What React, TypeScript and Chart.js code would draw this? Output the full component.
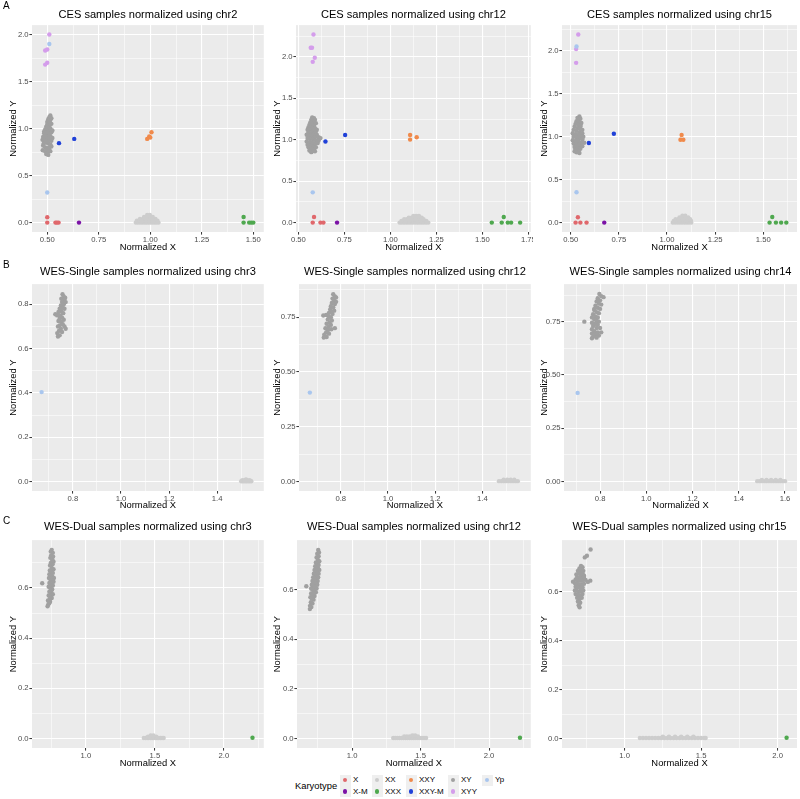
import React, { useEffect, useRef } from 'react';
import { Chart, registerables } from 'chart.js';
Chart.register(...registerables);

type Pt = [number, number];
const FONT = "'Liberation Sans', Arial, Helvetica, sans-serif";

const KARYOTYPES = ['X', 'X-M', 'XX', 'XXX', 'XXY', 'XXY-M', 'XY', 'XYY', 'Yp'];
const COLORS: Record<string, string> = {
  X: '#E0686C', 'X-M': '#7B12A6', XX: '#CDCDCD', XXX: '#4FA84F', XXY: '#F08A4B',
  'XXY-M': '#2041D8', XY: '#A0A0A0', XYY: '#D49DEB', Yp: '#A9C6EE',
};
const DRAW_ORDER = ['XX', 'XY', 'XXX', 'XXY', 'X', 'X-M', 'XXY-M', 'Yp', 'XYY'];

const TITLES = [
  'CES samples normalized using chr2', 'CES samples normalized using chr12', 'CES samples normalized using chr15',
  'WES-Single samples normalized using chr3', 'WES-Single samples normalized using chr12', 'WES-Single samples normalized using chr14',
  'WES-Dual samples normalized using chr3', 'WES-Dual samples normalized using chr12', 'WES-Dual samples normalized using chr15',
];

// ---------- Ticks ----------
const XT_A1 = [0.5, 0.75, 1, 1.25, 1.5];
const XL_A1 = ['0.50', '0.75', '1.00', '1.25', '1.50'];
const XM_A1 = [0.625, 0.875, 1.125, 1.375];
const XT_A2 = [0.5, 0.75, 1, 1.25, 1.5, 1.75];
const XL_A2 = ['0.50', '0.75', '1.00', '1.25', '1.50', '1.75'];
const XM_A2 = [0.625, 0.875, 1.125, 1.375, 1.625];
const XM_A3 = [0.625, 0.875, 1.125, 1.375, 1.625];
const YT_A = [0, 0.5, 1, 1.5, 2];
const YL_A = ['0.0', '0.5', '1.0', '1.5', '2.0'];
const YM_A1 = [0.25, 0.75, 1.25, 1.75];
const YM_A23 = [0.25, 0.75, 1.25, 1.75, 2.25];
const XT_B12 = [0.8, 1.0, 1.2, 1.4];
const XL_B12 = ['0.8', '1.0', '1.2', '1.4'];
const XT_B3 = [0.8, 1.0, 1.2, 1.4, 1.6];
const XL_B3 = ['0.8', '1.0', '1.2', '1.4', '1.6'];
const XM_B = [0.7, 0.9, 1.1, 1.3, 1.5];
const YT_B1 = [0, 0.2, 0.4, 0.6, 0.8];
const YL_B1 = ['0.0', '0.2', '0.4', '0.6', '0.8'];
const YM_B1 = [0.1, 0.3, 0.5, 0.7];
const YT_B23 = [0, 0.25, 0.5, 0.75];
const YL_B23 = ['0.00', '0.25', '0.50', '0.75'];
const YM_B23 = [0.125, 0.375, 0.625, 0.875];
const XT_C = [1.0, 1.5, 2.0];
const XL_C = ['1.0', '1.5', '2.0'];
const XM_C12 = [0.75, 1.25, 1.75, 2.25];
const XM_C3 = [0.75, 1.25, 1.75];
const YT_C = [0, 0.2, 0.4, 0.6];
const YL_C = ['0.0', '0.2', '0.4', '0.6'];
const YM_C = [0.1, 0.3, 0.5, 0.7];

// ---------- Data: panel A1 ----------
const A1_XY: Pt[] = [[0.515,1.14],[0.51,1.12],[0.52,1.11],[0.505,1.10],[0.515,1.09],[0.50,1.07],[0.51,1.06],[0.52,1.05],[0.50,1.04],[0.51,1.03],[0.495,1.02],[0.505,1.01],[0.515,1.00],[0.49,0.99],[0.50,0.98],[0.51,0.97],[0.52,0.96],[0.485,0.95],[0.495,0.94],[0.505,0.93],[0.515,0.92],[0.48,0.91],[0.49,0.90],[0.50,0.89],[0.51,0.88],[0.52,0.87],[0.477,0.88],[0.485,0.86],[0.495,0.85],[0.505,0.84],[0.515,0.83],[0.48,0.82],[0.49,0.80],[0.50,0.79],[0.51,0.80],[0.52,0.81],[0.478,0.77],[0.49,0.76],[0.50,0.74],[0.505,0.72],[0.495,0.73],[0.515,0.76],[0.525,0.90],[0.525,0.98],[0.485,0.97],[0.497,0.96],[0.51,0.91],[0.50,0.86],[0.49,0.92],[0.51,1.08],[0.498,1.00],[0.512,0.95],[0.483,0.84],[0.507,0.77]];
const A1_XX: Pt[] = [[0.93,0],[0.94,0],[0.95,0],[0.96,0],[0.97,0],[0.98,0],[0.99,0],[1.00,0],[1.01,0],[1.02,0],[1.03,0],[1.04,0],[0.935,0.02],[0.95,0.02],[0.965,0.02],[0.98,0.02],[0.995,0.02],[1.01,0.02],[1.025,0.02],[1.035,0.02],[0.95,0.04],[0.965,0.04],[0.98,0.04],[0.995,0.04],[1.01,0.04],[1.025,0.04],[0.97,0.06],[0.985,0.06],[1.0,0.06],[1.012,0.06],[0.985,0.08],[0.998,0.08]];
const A1_XXX: Pt[] = [[1.453,0.06],[1.453,0],[1.48,0],[1.49,0],[1.50,0]];
const A1_XXY: Pt[] = [[1.006,0.96],[0.995,0.915],[0.985,0.89],[1.0,0.905]];
const A1_X: Pt[] = [[0.50,0.057],[0.50,0],[0.54,0],[0.547,0],[0.555,0]];
const A1_XM: Pt[] = [[0.654,0]];
const A1_XXYM: Pt[] = [[0.557,0.845],[0.631,0.89]];
const A1_YP: Pt[] = [[0.51,1.90],[0.50,0.32]];
const A1_XYY: Pt[] = [[0.51,2.0],[0.50,1.84],[0.49,1.83],[0.50,1.70],[0.49,1.68]];

// ---------- Data: panel A2 ----------
const A2_XY: Pt[] = [[0.575,1.27],[0.585,1.26],[0.57,1.24],[0.59,1.24],[0.58,1.22],[0.565,1.21],[0.595,1.20],[0.575,1.19],[0.56,1.18],[0.585,1.17],[0.555,1.15],[0.57,1.15],[0.59,1.14],[0.55,1.12],[0.565,1.12],[0.58,1.11],[0.595,1.10],[0.555,1.09],[0.57,1.08],[0.585,1.07],[0.60,1.06],[0.545,1.06],[0.56,1.05],[0.575,1.04],[0.59,1.03],[0.61,1.03],[0.62,1.02],[0.55,1.02],[0.565,1.01],[0.58,1.00],[0.595,0.99],[0.61,0.99],[0.545,0.98],[0.56,0.97],[0.575,0.96],[0.59,0.95],[0.605,0.96],[0.55,0.94],[0.565,0.93],[0.58,0.92],[0.595,0.91],[0.555,0.91],[0.57,0.89],[0.585,0.88],[0.56,0.87],[0.575,0.86],[0.59,0.86],[0.57,0.85],[0.60,1.12],[0.58,1.13]];
const A2_XX: Pt[] = [[1.05,0],[1.062,0],[1.074,0],[1.086,0],[1.098,0],[1.11,0],[1.122,0],[1.134,0],[1.146,0],[1.158,0],[1.17,0],[1.182,0],[1.194,0],[1.206,0],[1.06,0.02],[1.075,0.02],[1.09,0.02],[1.105,0.02],[1.12,0.02],[1.135,0.02],[1.15,0.02],[1.165,0.02],[1.18,0.02],[1.195,0.02],[1.075,0.04],[1.09,0.04],[1.105,0.04],[1.12,0.04],[1.135,0.04],[1.15,0.04],[1.165,0.04],[1.18,0.04],[1.10,0.06],[1.115,0.06],[1.13,0.06],[1.145,0.06],[1.16,0.06],[1.17,0.06],[1.125,0.08],[1.14,0.08],[1.155,0.08]];
const A2_XXX: Pt[] = [[1.551,0],[1.605,0],[1.616,0.068],[1.638,0],[1.656,0],[1.705,0]];
const A2_XXY: Pt[] = [[1.107,1.058],[1.107,1.002],[1.143,1.03]];
const A2_X: Pt[] = [[0.585,0.068],[0.578,0],[0.62,0],[0.636,0]];
const A2_XM: Pt[] = [[0.71,0]];
const A2_XXYM: Pt[] = [[0.647,0.978],[0.754,1.058]];
const A2_YP: Pt[] = [[0.578,0.365]];
const A2_XYY: Pt[] = [[0.582,2.27],[0.567,2.11],[0.574,2.11],[0.589,1.99],[0.578,1.94]];

// ---------- Data: panel A3 ----------
const A3_XY: Pt[] = [[0.545,1.235],[0.535,1.22],[0.55,1.21],[0.54,1.20],[0.53,1.18],[0.545,1.17],[0.555,1.16],[0.525,1.15],[0.54,1.14],[0.55,1.12],[0.52,1.12],[0.535,1.10],[0.55,1.09],[0.56,1.08],[0.515,1.08],[0.53,1.07],[0.545,1.05],[0.56,1.04],[0.51,1.04],[0.525,1.03],[0.54,1.02],[0.555,1.01],[0.565,1.00],[0.515,1.00],[0.53,0.99],[0.545,0.98],[0.56,0.97],[0.51,0.96],[0.525,0.95],[0.54,0.94],[0.555,0.93],[0.57,0.93],[0.515,0.92],[0.53,0.91],[0.545,0.90],[0.56,0.89],[0.52,0.88],[0.535,0.87],[0.55,0.86],[0.525,0.85],[0.54,0.84],[0.53,0.82],[0.545,0.81],[0.52,0.83],[0.535,0.96],[0.55,1.13]];
const A3_XX: Pt[] = [[1.03,0],[1.042,0],[1.054,0],[1.066,0],[1.078,0],[1.09,0],[1.102,0],[1.114,0],[1.126,0],[1.035,0.02],[1.05,0.02],[1.065,0.02],[1.08,0.02],[1.095,0.02],[1.11,0.02],[1.125,0.02],[1.045,0.04],[1.06,0.04],[1.075,0.04],[1.09,0.04],[1.105,0.04],[1.12,0.04],[1.065,0.06],[1.08,0.06],[1.095,0.06],[1.11,0.06],[1.08,0.08],[1.095,0.08]];
const A3_XXX: Pt[] = [[1.533,0],[1.547,0.066],[1.566,0],[1.593,0],[1.62,0]];
const A3_XXY: Pt[] = [[1.076,1.02],[1.07,0.965],[1.085,0.965]];
const A3_X: Pt[] = [[0.537,0.062],[0.525,0],[0.55,0],[0.582,0]];
const A3_XM: Pt[] = [[0.674,0]];
const A3_XXYM: Pt[] = [[0.594,0.926],[0.724,1.035]];
const A3_YP: Pt[] = [[0.53,2.05],[0.53,0.353]];
const A3_XYY: Pt[] = [[0.539,2.19],[0.528,2.02],[0.528,1.86]];

// ---------- Data: panel B1 ----------
const B1_XY: Pt[] = [[0.757,0.845],[0.762,0.835],[0.752,0.825],[0.765,0.82],[0.755,0.81],[0.762,0.80],[0.75,0.795],[0.758,0.785],[0.745,0.78],[0.765,0.78],[0.752,0.77],[0.74,0.765],[0.76,0.76],[0.727,0.755],[0.735,0.75],[0.748,0.75],[0.755,0.74],[0.745,0.735],[0.762,0.73],[0.74,0.725],[0.752,0.72],[0.758,0.71],[0.745,0.705],[0.765,0.70],[0.738,0.70],[0.75,0.69],[0.77,0.69],[0.742,0.68],[0.755,0.675],[0.735,0.67],[0.745,0.66],[0.738,0.655],[0.768,0.83],[0.77,0.81]];
const B1_XX: Pt[] = [[1.50,0.002],[1.507,0.002],[1.514,0.002],[1.521,0.002],[1.528,0.002],[1.535,0.002],[1.542,0.002],[1.505,0.007],[1.515,0.007],[1.525,0.007],[1.535,0.007],[1.52,0.01]];
const B1_YP: Pt[] = [[0.67,0.404]];

// ---------- Data: panel B2 ----------
const B2_XY: Pt[] = [[0.768,0.855],[0.775,0.845],[0.765,0.835],[0.772,0.825],[0.762,0.815],[0.775,0.81],[0.758,0.80],[0.768,0.795],[0.755,0.785],[0.772,0.78],[0.76,0.775],[0.75,0.77],[0.765,0.765],[0.726,0.758],[0.738,0.76],[0.748,0.755],[0.758,0.75],[0.745,0.74],[0.762,0.735],[0.752,0.725],[0.74,0.72],[0.758,0.715],[0.748,0.705],[0.775,0.70],[0.735,0.70],[0.745,0.69],[0.76,0.695],[0.738,0.68],[0.75,0.675],[0.73,0.67],[0.74,0.66],[0.728,0.657],[0.78,0.84],[0.78,0.82]];
const B2_XX: Pt[] = [[1.47,0.002],[1.48,0.002],[1.49,0.002],[1.50,0.002],[1.51,0.002],[1.52,0.002],[1.53,0.002],[1.54,0.002],[1.55,0.002],[1.49,0.008],[1.505,0.008],[1.52,0.008],[1.535,0.008]];
const B2_YP: Pt[] = [[0.669,0.406]];

// ---------- Data: panel B3 ----------
const B3_XY: Pt[] = [[0.797,0.88],[0.805,0.87],[0.815,0.865],[0.79,0.86],[0.80,0.85],[0.785,0.845],[0.795,0.835],[0.805,0.83],[0.78,0.825],[0.79,0.815],[0.80,0.81],[0.775,0.805],[0.785,0.795],[0.795,0.79],[0.77,0.785],[0.78,0.775],[0.79,0.77],[0.765,0.77],[0.775,0.76],[0.785,0.755],[0.795,0.75],[0.732,0.75],[0.765,0.745],[0.78,0.74],[0.79,0.735],[0.77,0.73],[0.785,0.72],[0.80,0.72],[0.765,0.715],[0.775,0.705],[0.79,0.70],[0.805,0.70],[0.765,0.695],[0.78,0.69],[0.795,0.685],[0.77,0.68],[0.785,0.675],[0.765,0.672],[0.775,0.81]];
const B3_XX: Pt[] = [[1.48,0.002],[1.49,0.002],[1.50,0.002],[1.51,0.002],[1.52,0.002],[1.53,0.002],[1.54,0.002],[1.55,0.002],[1.56,0.002],[1.57,0.002],[1.58,0.002],[1.59,0.002],[1.60,0.002],[1.50,0.008],[1.52,0.008],[1.54,0.008],[1.56,0.008],[1.58,0.008]];
const B3_YP: Pt[] = [[0.703,0.416]];

// ---------- Data: panel C1 ----------
const C1_XY: Pt[] = [[0.752,0.752],[0.745,0.745],[0.76,0.74],[0.748,0.73],[0.762,0.725],[0.742,0.72],[0.755,0.715],[0.765,0.705],[0.745,0.70],[0.758,0.695],[0.74,0.69],[0.752,0.68],[0.765,0.675],[0.738,0.67],[0.748,0.665],[0.76,0.66],[0.735,0.655],[0.745,0.65],[0.757,0.645],[0.768,0.64],[0.732,0.64],[0.742,0.635],[0.755,0.63],[0.765,0.625],[0.735,0.62],[0.748,0.615],[0.76,0.61],[0.683,0.619],[0.73,0.605],[0.742,0.60],[0.755,0.595],[0.735,0.585],[0.748,0.58],[0.76,0.575],[0.73,0.57],[0.742,0.565],[0.752,0.56],[0.738,0.555],[0.725,0.55],[0.74,0.545],[0.728,0.535],[0.722,0.527],[0.735,0.54],[0.758,0.71],[0.75,0.59]];
const C1_XX: Pt[] = [[1.42,0.002],[1.432,0.002],[1.444,0.002],[1.456,0.002],[1.468,0.002],[1.48,0.002],[1.492,0.002],[1.504,0.002],[1.516,0.002],[1.528,0.002],[1.54,0.002],[1.552,0.002],[1.564,0.002],[1.45,0.007],[1.47,0.007],[1.49,0.007],[1.51,0.007],[1.47,0.012],[1.49,0.012]];
const C1_XXX: Pt[] = [[2.208,0.003]];

// ---------- Data: panel C2 ----------
const C2_XY: Pt[] = [[0.752,0.76],[0.758,0.75],[0.745,0.745],[0.755,0.735],[0.74,0.73],[0.75,0.72],[0.76,0.715],[0.735,0.71],[0.745,0.705],[0.755,0.70],[0.73,0.695],[0.74,0.69],[0.752,0.685],[0.76,0.68],[0.725,0.68],[0.735,0.675],[0.745,0.67],[0.755,0.665],[0.72,0.665],[0.73,0.66],[0.742,0.655],[0.752,0.65],[0.715,0.65],[0.725,0.645],[0.738,0.64],[0.748,0.635],[0.71,0.635],[0.72,0.63],[0.732,0.625],[0.745,0.62],[0.665,0.614],[0.705,0.62],[0.715,0.615],[0.728,0.61],[0.74,0.605],[0.70,0.605],[0.71,0.60],[0.722,0.595],[0.735,0.59],[0.70,0.585],[0.712,0.58],[0.725,0.575],[0.695,0.57],[0.705,0.565],[0.718,0.56],[0.698,0.55],[0.71,0.545],[0.692,0.535],[0.702,0.53],[0.691,0.522]];
const C2_XX: Pt[] = [[1.30,0.002],[1.315,0.002],[1.33,0.002],[1.345,0.002],[1.36,0.002],[1.375,0.002],[1.39,0.002],[1.405,0.002],[1.42,0.002],[1.435,0.002],[1.45,0.002],[1.465,0.002],[1.48,0.002],[1.495,0.002],[1.51,0.002],[1.525,0.002],[1.54,0.002],[1.38,0.008],[1.40,0.008],[1.42,0.008],[1.44,0.008],[1.46,0.008],[1.48,0.008],[1.44,0.013],[1.46,0.013]];
const C2_XXX: Pt[] = [[2.226,0.003]];

// ---------- Data: panel C3 ----------
const C3_XY: Pt[] = [[0.778,0.772],[0.754,0.747],[0.74,0.74],[0.725,0.70],[0.715,0.705],[0.705,0.695],[0.72,0.69],[0.73,0.685],[0.695,0.685],[0.71,0.68],[0.70,0.675],[0.725,0.675],[0.685,0.67],[0.715,0.665],[0.735,0.665],[0.69,0.66],[0.705,0.655],[0.72,0.655],[0.68,0.65],[0.695,0.645],[0.71,0.645],[0.725,0.645],[0.745,0.648],[0.776,0.645],[0.76,0.64],[0.663,0.641],[0.675,0.635],[0.69,0.632],[0.705,0.63],[0.72,0.63],[0.735,0.632],[0.68,0.62],[0.695,0.618],[0.71,0.615],[0.725,0.618],[0.685,0.605],[0.70,0.60],[0.715,0.602],[0.73,0.605],[0.68,0.59],[0.695,0.588],[0.71,0.585],[0.725,0.59],[0.69,0.575],[0.705,0.57],[0.72,0.575],[0.695,0.56],[0.71,0.555],[0.70,0.545],[0.706,0.536],[0.675,0.605],[0.735,0.66]];
const C3_XX: Pt[] = [[1.10,0.002],[1.12,0.002],[1.14,0.002],[1.16,0.002],[1.18,0.002],[1.20,0.002],[1.22,0.002],[1.24,0.002],[1.26,0.002],[1.28,0.002],[1.30,0.002],[1.32,0.002],[1.34,0.002],[1.36,0.002],[1.38,0.002],[1.40,0.002],[1.42,0.002],[1.44,0.002],[1.46,0.002],[1.48,0.002],[1.50,0.002],[1.52,0.002],[1.53,0.002],[1.25,0.008],[1.29,0.008],[1.33,0.008],[1.37,0.008],[1.41,0.008],[1.45,0.008]];
const C3_XXX: Pt[] = [[2.059,0.003]];

// ---------- Layout ----------
interface Box { left: number; top: number; w: number; h: number; yW: number; padR: number; tTop: number; tBot: number; xH: number; xTitlePad: number; yTitlePad: number }
interface PanelCfg {
  title: string; series: Record<string, Pt[]>;
  xMin: number; xMax: number; yMin: number; yMax: number;
  xMajor: number[]; xLabels: string[]; xMinor: number[];
  yMajor: number[]; yLabels: string[]; yMinor: number[];
  box: Box;
}

const ROW_A = { top: 0, h: 255, tTop: 8.4, tBot: 3.4, xH: 23, xTitlePad: 2.4 };
const ROW_B = { top: 255, h: 256, tTop: 10.1, tBot: 5.7, xH: 20, xTitlePad: 0.4 };
const ROW_C = { top: 510, h: 260, tTop: 10.4, tBot: 6.4, xH: 22, xTitlePad: 1.4 };
const COL_1 = { left: 0, w: 266, yTitlePad: 7.7 };
const COL_2 = { left: 266, w: 267, yTitlePad: 5.7 };
const COL_3 = { left: 533, w: 267, yTitlePad: 6.2 };
const mk = (r: typeof ROW_A, c: typeof COL_1, yW: number, padR: number): Box => ({ ...r, ...c, yW, padR });

const PANELS: PanelCfg[] = [
  { title: TITLES[0], series: { XX: A1_XX, XY: A1_XY, XXX: A1_XXX, XXY: A1_XXY, X: A1_X, 'X-M': A1_XM, 'XXY-M': A1_XXYM, Yp: A1_YP, XYY: A1_XYY },
    xMin: 0.426, xMax: 1.551, yMin: -0.1, yMax: 2.1, xMajor: XT_A1, xLabels: XL_A1, xMinor: XM_A1, yMajor: YT_A, yLabels: YL_A, yMinor: YM_A1, box: mk(ROW_A, COL_1, 32, 2) },
  { title: TITLES[1], series: { XX: A2_XX, XY: A2_XY, XXX: A2_XXX, XXY: A2_XXY, X: A2_X, 'X-M': A2_XM, 'XXY-M': A2_XXYM, Yp: A2_YP, XYY: A2_XYY },
    xMin: 0.487, xMax: 1.763, yMin: -0.1135, yMax: 2.3835, xMajor: XT_A2, xLabels: XL_A2, xMinor: XM_A2, yMajor: YT_A, yLabels: YL_A, yMinor: YM_A23, box: mk(ROW_A, COL_2, 30, 2) },
  { title: TITLES[2], series: { XX: A3_XX, XY: A3_XY, XXX: A3_XXX, XXY: A3_XXY, X: A3_X, 'X-M': A3_XM, 'XXY-M': A3_XXYM, Yp: A3_YP, XYY: A3_XYY },
    xMin: 0.4545, xMax: 1.6755, yMin: -0.1095, yMax: 2.2995, xMajor: XT_A1, xLabels: XL_A1, xMinor: XM_A3, yMajor: YT_A, yLabels: YL_A, yMinor: YM_A23, box: mk(ROW_A, COL_3, 29, 3) },
  { title: TITLES[3], series: { XX: B1_XX, XY: B1_XY, Yp: B1_YP },
    xMin: 0.63, xMax: 1.594, yMin: -0.042, yMax: 0.891, xMajor: XT_B12, xLabels: XL_B12, xMinor: XM_B, yMajor: YT_B1, yLabels: YL_B1, yMinor: YM_B1, box: mk(ROW_B, COL_1, 32, 1) },
  { title: TITLES[4], series: { XX: B2_XX, XY: B2_XY, Yp: B2_YP },
    xMin: 0.623, xMax: 1.605, yMin: -0.043, yMax: 0.901, xMajor: XT_B12, xLabels: XL_B12, xMinor: XM_B, yMajor: YT_B23, yLabels: YL_B23, yMinor: YM_B23, box: mk(ROW_B, COL_2, 33, 1) },
  { title: TITLES[5], series: { XX: B3_XX, XY: B3_XY, Yp: B3_YP },
    xMin: 0.644, xMax: 1.652, yMin: -0.0441, yMax: 0.9261, xMajor: XT_B3, xLabels: XL_B3, xMinor: XM_B, yMajor: YT_B23, yLabels: YL_B23, yMinor: YM_B23, box: mk(ROW_B, COL_3, 31, 3) },
  { title: TITLES[6], series: { XX: C1_XX, XY: C1_XY, XXX: C1_XXX },
    xMin: 0.609, xMax: 2.29, yMin: -0.0377, yMax: 0.7907, xMajor: XT_C, xLabels: XL_C, xMinor: XM_C12, yMajor: YT_C, yLabels: YL_C, yMinor: YM_C, box: mk(ROW_C, COL_1, 32, 1) },
  { title: TITLES[7], series: { XX: C2_XX, XY: C2_XY, XXX: C2_XXX },
    xMin: 0.597, xMax: 2.305, yMin: -0.0381, yMax: 0.8001, xMajor: XT_C, xLabels: XL_C, xMinor: XM_C12, yMajor: YT_C, yLabels: YL_C, yMinor: YM_C, box: mk(ROW_C, COL_2, 31, 2) },
  { title: TITLES[8], series: { XX: C3_XX, XY: C3_XY, XXX: C3_XXX },
    xMin: 0.591, xMax: 2.127, yMin: -0.0386, yMax: 0.8106, xMajor: XT_C, xLabels: XL_C, xMinor: XM_C3, yMajor: YT_C, yLabels: YL_C, yMinor: YM_C, box: mk(ROW_C, COL_3, 29, 3) },
];

const bgPlugin = {
  id: 'panelBg',
  beforeDraw(chart: any) {
    const { ctx, chartArea: a } = chart;
    ctx.save();
    ctx.fillStyle = '#EBEBEB';
    ctx.fillRect(a.left, a.top, a.right - a.left, a.bottom - a.top);
    ctx.restore();
  },
};

function makeAxis(min: number, max: number, major: number[], labels: string[], minor: number[], title: string, horizontal: boolean, size: number, titlePad: number) {
  const all = [...major, ...minor].sort((a, b) => a - b);
  const majorIndex = (v: number) => major.findIndex((m) => Math.abs(m - v) < 1e-9);
  const isMajor = (c: any) => (c && c.tick ? majorIndex(c.tick.value) >= 0 : true);
  return {
    type: 'linear' as const,
    min, max,
    afterBuildTicks: (s: any) => { s.ticks = all.map((v) => ({ value: v })); },
    afterFit: (s: any) => {
      if (horizontal) { s.height = size; s.paddingLeft = 0; s.paddingRight = 0; }
      else { s.width = size; s.paddingTop = 0; s.paddingBottom = 0; }
    },
    ticks: {
      autoSkip: false, maxRotation: 0, minRotation: 0,
      padding: horizontal ? 0.8 : 0.8,
      color: '#4D4D4D',
      font: { family: FONT, size: 7.7 },
      callback: (v: any) => { const i = majorIndex(Number(v)); return i >= 0 ? labels[i] : ''; },
    },
    grid: {
      color: '#FFFFFF',
      lineWidth: (c: any) => (isMajor(c) ? 1.1 : 0.55),
      drawTicks: true,
      tickLength: 2.6,
      tickWidth: 1,
      tickColor: (c: any) => (isMajor(c) ? '#333333' : 'rgba(0,0,0,0)'),
    },
    border: { display: false },
    title: {
      display: true, text: title, color: '#000000',
      font: { family: FONT, size: 9.4 },
      padding: horizontal ? { top: 0, bottom: titlePad } : { top: titlePad, bottom: 0 },
    },
  };
}

function Panel({ cfg }: { cfg: PanelCfg }) {
  const ref = useRef<HTMLCanvasElement>(null);
  useEffect(() => {
    const b = cfg.box;
    const datasets = DRAW_ORDER.filter((k) => cfg.series[k]).map((k) => ({
      label: k,
      data: cfg.series[k].map(([x, y]) => ({ x, y })),
      backgroundColor: COLORS[k],
      borderWidth: 0,
      pointRadius: 2.2,
      pointHoverRadius: 2.2,
    }));
    const chart = new Chart(ref.current as HTMLCanvasElement, {
      type: 'scatter',
      data: { datasets },
      plugins: [bgPlugin],
      options: {
        animation: false,
        responsive: false,
        devicePixelRatio: 1,
        events: [],
        layout: { padding: { left: 0, right: b.padR, top: 0, bottom: 0 } },
        plugins: {
          legend: { display: false },
          tooltip: { enabled: false },
          title: {
            display: true, text: cfg.title, fullSize: false, align: 'center', color: '#000000',
            font: { family: FONT, size: 11.1, weight: 'normal' },
            padding: { top: b.tTop, bottom: b.tBot },
          },
        },
        scales: {
          x: makeAxis(cfg.xMin, cfg.xMax, cfg.xMajor, cfg.xLabels, cfg.xMinor, 'Normalized X', true, b.xH, b.xTitlePad),
          y: makeAxis(cfg.yMin, cfg.yMax, cfg.yMajor, cfg.yLabels, cfg.yMinor, 'Normalized Y', false, b.yW, b.yTitlePad),
        },
      } as any,
    });
    return () => chart.destroy();
  }, [cfg]);
  const b = cfg.box;
  return (
    <canvas ref={ref} width={b.w} height={b.h}
      style={{ position: 'absolute', left: b.left, top: b.top, width: b.w, height: b.h }} />
  );
}

const LEGEND_COLS = [['X', 'X-M'], ['XX', 'XXX'], ['XXY', 'XXY-M'], ['XY', 'XYY'], ['Yp']];
const LEGEND_COL_X = [345, 377, 411, 453, 487];
const LEGEND_ROW_Y = [780, 791.5];
const PANEL_LETTERS: [string, number][] = [['A', 1], ['B', 260], ['C', 515.5]];

export default function App() {
  return (
    <div style={{ position: 'fixed', left: 0, top: 0, width: 800, height: 799, background: '#FFFFFF', overflow: 'hidden', fontFamily: FONT }}>
      {PANELS.map((p, i) => <Panel key={i} cfg={p} />)}
      {PANEL_LETTERS.map(([l, t]) => (
        <div key={l} style={{ position: 'absolute', left: 3, top: t, fontSize: 10, lineHeight: '10px', color: '#000' }}>{l}</div>
      ))}
      <div style={{ position: 'absolute', left: 295, top: 780, fontSize: 9.4, lineHeight: '12px', color: '#000' }}>Karyotype</div>
      {LEGEND_COLS.map((col, ci) => col.map((k, ri) => (
        <React.Fragment key={k}>
          <div style={{ position: 'absolute', left: LEGEND_COL_X[ci] - 5.5, top: LEGEND_ROW_Y[ri] - 5.5, width: 11, height: 11, background: '#EFEFEF' }} />
          <div style={{ position: 'absolute', left: LEGEND_COL_X[ci] - 2.2, top: LEGEND_ROW_Y[ri] - 2.2, width: 4.4, height: 4.4, borderRadius: '50%', background: COLORS[k] }} />
          <div style={{ position: 'absolute', left: LEGEND_COL_X[ci] + 8, top: LEGEND_ROW_Y[ri] - 5, fontSize: 8, lineHeight: '10px', color: '#000', whiteSpace: 'nowrap' }}>{k}</div>
        </React.Fragment>
      )))}
    </div>
  );
}
